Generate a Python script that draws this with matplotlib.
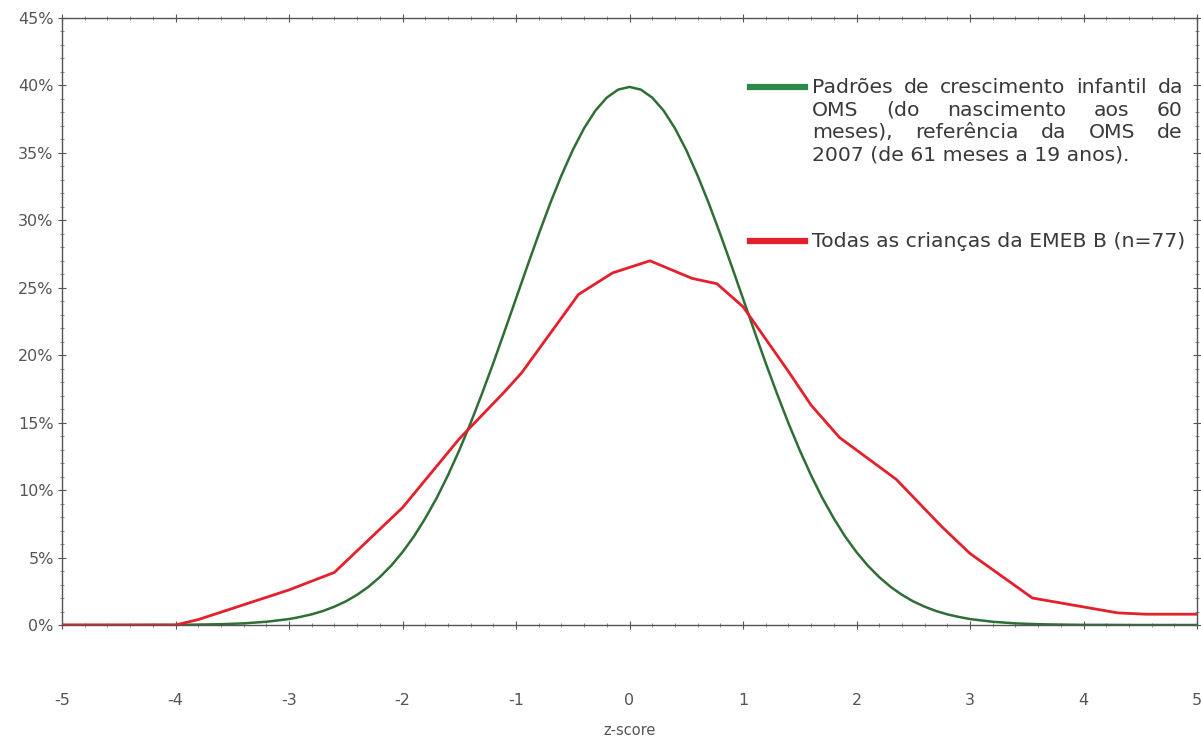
import numpy as np
import matplotlib
matplotlib.use("Agg")
import matplotlib.pyplot as plt
from matplotlib.ticker import MultipleLocator, FuncFormatter

plt.rcParams['font.family'] = ['DejaVu Sans']

# curva de referencia OMS (metade direita, simetrica)
z_half = [0.0, 0.1, 0.2, 0.3, 0.4, 0.5, 0.6, 0.7, 0.8, 0.9, 1.0, 1.1, 1.2, 1.3, 1.4, 1.5,
          1.6, 1.7, 1.8, 1.9, 2.0, 2.1, 2.2, 2.3, 2.4, 2.5, 2.6, 2.7, 2.8, 2.9, 3.0,
          3.2, 3.4, 3.6, 3.8, 4.0, 4.2, 4.4, 4.6, 4.8, 5.0]
pct_half = [39.89, 39.69, 39.10, 38.14, 36.83, 35.21, 33.32, 31.23, 28.97, 26.61, 24.20,
            21.79, 19.42, 17.14, 14.97, 12.95, 11.09, 9.40, 7.90, 6.56, 5.40, 4.40, 3.55,
            2.83, 2.24, 1.75, 1.36, 1.04, 0.79, 0.60, 0.44,
            0.24, 0.12, 0.06, 0.03, 0.01, 0.01, 0.00, 0.00, 0.00, 0.00]
z_oms = [-z for z in z_half[:0:-1]] + z_half
pct_oms = pct_half[:0:-1] + pct_half

# criancas da EMEB B
z_emeb = [-5, -4, -3.8, -3.4, -3.0, -2.6, -2.0, -1.5, -1.1, -0.95, -0.45, -0.15, 0.18,
          0.55, 0.77, 1.0, 1.2, 1.4, 1.6, 1.85, 2.35, 2.75, 3.0, 3.55, 4.3, 4.55, 5]
pct_emeb = [0, 0, 0.4, 1.5, 2.6, 3.9, 8.7, 13.8, 17.3, 18.7, 24.5, 26.1, 27.0,
            25.7, 25.3, 23.6, 21.2, 18.8, 16.3, 13.9, 10.8, 7.3, 5.3, 2.0, 0.9, 0.8, 0.8]

leg_oms = ["Padrões de crescimento infantil da",
           "OMS (do nascimento aos 60",
           "meses), referência da OMS de",
           "2007 (de 61 meses a 19 anos)."]
leg_emeb = "Todas as crianças da EMEB B (n=77)"

verde = '#2f6e35'
vermelho = '#e3202b'
cinza = '#555555'
texto = '#3a3a3a'

fig = plt.figure(figsize=(12.01, 7.43), dpi=100)
ax = fig.add_axes([62/1201, 1-625/743, (1197-62)/1201, (625-18)/743])

ax.plot(z_oms, pct_oms, color=verde, lw=1.8, zorder=3)
ax.plot(z_emeb, pct_emeb, color=vermelho, lw=2.0, zorder=4)

ax.set_xlim(-5, 5)
ax.set_ylim(0, 45)
ax.xaxis.set_major_locator(MultipleLocator(1))
ax.xaxis.set_minor_locator(MultipleLocator(0.2))
ax.yaxis.set_major_locator(MultipleLocator(5))
ax.yaxis.set_minor_locator(MultipleLocator(1))
ax.yaxis.set_major_formatter(FuncFormatter(lambda v, p: '%d%%' % v))
ax.xaxis.set_major_formatter(FuncFormatter(lambda v, p: '%d' % v))

ax.tick_params(axis='both', which='major', direction='inout', length=6, width=0.8,
               colors='#555555', labelcolor=cinza, labelsize=11.5, top=True, right=True)
ax.tick_params(axis='both', which='minor', direction='inout', length=3, width=0.6,
               colors='#777777', top=True, right=True)
ax.tick_params(axis='x', which='major', pad=46)
ax.tick_params(axis='y', which='major', pad=3)
for s in ax.spines.values():
    s.set_color('#555555')
    s.set_linewidth(1.0)

ax.set_xlabel('z-score', fontsize=10.5, color=cinza, labelpad=11)

# legenda com texto justificado
def px(x, y):
    return fig.transFigure.inverted().transform((x, 743 - y))

fig.canvas.draw()
rend = fig.canvas.get_renderer()

def largura(s, fs):
    t = fig.text(0, 0, s, fontsize=fs)
    w = t.get_window_extent(rend).width
    t.remove()
    return w

x0, x1 = 812, 1183
fs = 12 * (x1 - x0) / largura(leg_emeb, 12)
base = 6  # distancia do centro da linha ate a linha de base
y = 87
for i, linha in enumerate(leg_oms):
    palavras = linha.split(' ')
    if i == len(leg_oms) - 1:
        fig.text(*px(x0, y + base), linha, fontsize=fs, color=texto, va='baseline', ha='left')
    else:
        larg = [largura(w, fs) for w in palavras]
        gap = (x1 - x0 - sum(larg)) / (len(palavras) - 1)
        xx = x0
        for w, l in zip(palavras, larg):
            fig.text(*px(xx, y + base), w, fontsize=fs, color=texto, va='baseline', ha='left')
            xx += l + gap
    y += 22.5

fig.add_artist(plt.Line2D(*zip(px(750, 87), px(805, 87)), color='#2a8a4a', lw=4.5))
fig.add_artist(plt.Line2D(*zip(px(750, 241), px(805, 241)), color=vermelho, lw=4.5))
fig.text(*px(x0, 241 + base), leg_emeb, fontsize=fs, color=texto, va='baseline', ha='left')

fig.savefig('out.png', dpi=100)
